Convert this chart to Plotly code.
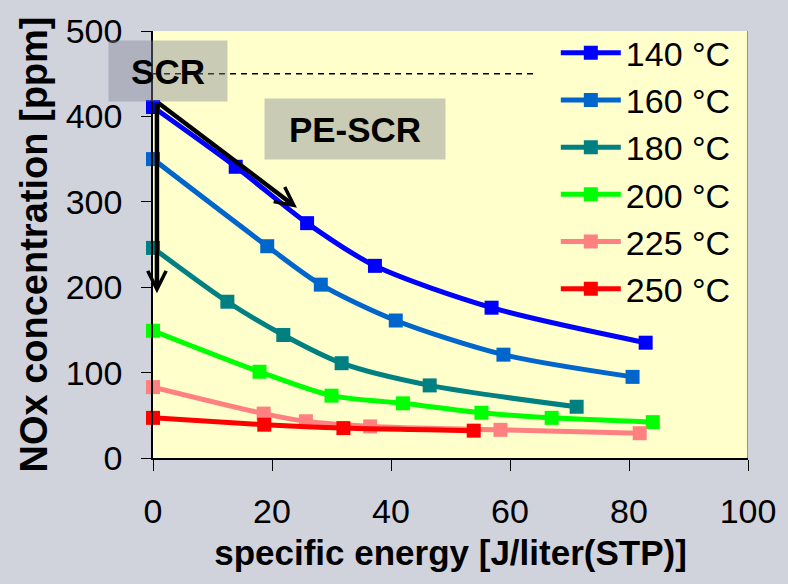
import plotly.graph_objects as go

# NOx concentration vs. specific plasma energy, one series per gas temperature
labels = ["140 °C", "160 °C", "180 °C", "200 °C", "225 °C", "250 °C"]
colors = ["#0000FF", "#0066CC", "#008080", "#00FF00", "#FF8080", "#FF0000"]

energy_140 = [0, 13.9, 25.9, 37.3, 56.9, 82.8]
nox_140 = [411, 341, 275, 225, 176, 135]

energy_160 = [0, 19.2, 28.2, 40.8, 58.9, 80.6]
nox_160 = [350, 248, 203, 161, 121, 95]

energy_180 = [0, 12.5, 21.9, 31.7, 46.5, 71.2]
nox_180 = [246, 183, 144, 111, 85, 60]

energy_200 = [0, 17.9, 30.0, 42.0, 55.2, 67.0, 84.0]
nox_200 = [149, 101, 73, 64, 53, 47, 42]

energy_225 = [0, 18.6, 25.7, 36.5, 58.4, 81.8]
nox_225 = [83, 52, 43, 37, 33, 29]

energy_250 = [0, 18.7, 32.0, 53.9]
nox_250 = [47, 39, 35, 32]

series_x = [energy_140, energy_160, energy_180, energy_200, energy_225, energy_250]
series_y = [nox_140, nox_160, nox_180, nox_200, nox_225, nox_250]

x_ticks = [0, 20, 40, 60, 80, 100]
y_ticks = [0, 100, 200, 300, 400, 500]

# SCR reference level and arrow end points (data units)
scr_level = 450
scr_line_end = 64.5
arrow_start = (0.66, 417)
arrow_down_tip = (0.66, 193)
arrow_diag_tip = (24.2, 293)

fig = go.Figure()

for xs, ys, name, col in zip(series_x, series_y, labels, colors):
    fig.add_trace(go.Scatter(
        x=xs, y=ys, name=name, mode="lines+markers",
        line=dict(color=col, width=5, shape="spline", smoothing=0.8),
        marker=dict(symbol="square", size=14, color=col),
        cliponaxis=False,
    ))

# dashed SCR level line
fig.add_trace(go.Scatter(
    x=[0, scr_line_end], y=[scr_level, scr_level], mode="lines",
    line=dict(color="black", width=1.5, dash="6px,5px"),
    showlegend=False, hoverinfo="skip",
))

# arrows: plain SCR drop and PE-SCR path
for tip in (arrow_down_tip, arrow_diag_tip):
    fig.add_annotation(
        x=tip[0], y=tip[1], ax=arrow_start[0], ay=arrow_start[1],
        xref="x", yref="y", axref="x", ayref="y",
        text="", showarrow=True, arrowhead=5, arrowsize=0.8,
        arrowwidth=4.5, arrowcolor="black",
    )

box_fill = "rgba(128,132,150,0.42)"
fig.add_annotation(
    x=2.5, y=453, xref="x", yref="y", text="<b>SCR</b>", showarrow=False,
    width=118, height=60, bgcolor=box_fill, borderpad=0,
    font=dict(size=35, color="black", family="Liberation Sans, Arial"),
)
fig.add_annotation(
    x=34, y=385, xref="x", yref="y", text="<b>PE-SCR</b>", showarrow=False,
    width=180, height=60, bgcolor=box_fill, borderpad=0,
    font=dict(size=35, color="black", family="Liberation Sans, Arial"),
)

# thin frame on the right side of the plot area
fig.add_shape(type="line", x0=100, x1=100, y0=0, y1=500, xref="x", yref="y",
              line=dict(color="#707070", width=1.5), layer="above")

fig.update_layout(
    width=788, height=584,
    margin=dict(l=153, r=31, t=24, b=126),
    paper_bgcolor="#D0D3DC",
    plot_bgcolor="#FFFFCC",
    font=dict(family="Liberation Sans, Arial", size=34, color="black"),
    showlegend=True,
    legend=dict(
        x=0.677, y=1.016, xanchor="left", yanchor="top",
        bgcolor="rgba(0,0,0,0)", font=dict(size=34),
        itemwidth=60, tracegroupgap=0, maxheight=500,
    ),
    xaxis=dict(
        range=[0, 100], tickvals=x_ticks, showgrid=False, zeroline=False,
        showline=True, linecolor="black", linewidth=1.5,
        ticks="outside", ticklen=11, tickcolor="black", tickwidth=1.2,
        tickfont=dict(size=34), ticklabelstandoff=11,
        title=dict(text="<b>specific energy [J/liter(STP)]</b>",
                   font=dict(size=35), standoff=12),
    ),
    yaxis=dict(
        range=[0, 500], tickvals=y_ticks, showgrid=False, zeroline=False,
        showline=True, linecolor="black", linewidth=1.5,
        ticks="outside", ticklen=10, tickcolor="black", tickwidth=1.2,
        tickfont=dict(size=34), ticklabelstandoff=12,
        title=dict(text="<b>NOx concentration [ppm]</b>",
                   font=dict(size=38), standoff=6),
    ),
)

fig.write_html("out.html")
